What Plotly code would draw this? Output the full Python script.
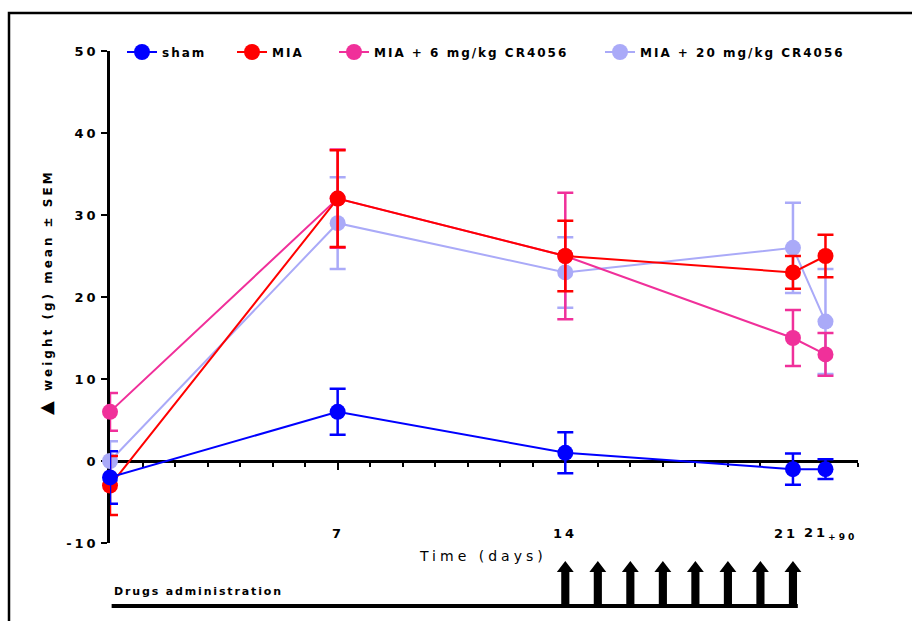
import plotly.graph_objects as go

# ---------------- data ----------------
days = [0, 7, 14, 21, 22]
series_names = ["sham", "MIA", "MIA + 6 mg/kg CR4056", "MIA + 20 mg/kg CR4056"]
sham_mean = [-2, 6, 1, -1, -1]
sham_sem = [3.2, 2.8, 2.5, 1.9, 1.2]
mia_mean = [-3, 32, 25, 23, 25]
mia_sem = [3.6, 5.9, 4.3, 2.0, 2.6]
mia6_mean = [6, 32, 25, 15, 13]
mia6_sem = [2.3, 6.0, 7.7, 3.4, 2.6]
mia20_mean = [0, 29, 23, 26, 17]
mia20_sem = [2.4, 5.6, 4.3, 5.5, 6.4]

xtick_vals = [7, 14, 21, 22]
xtick_text = ["7", "14", "21", "21<sub>+90</sub>"]
ytick_vals = [-10, 0, 10, 20, 30, 40, 50]
ytick_text = ["-10", "0", "10", "20", "30", "40", "50"]
dosing_days = [14, 15, 16, 17, 18, 19, 20, 21]

colors = ["#0000FF", "#FF0000", "#F0309A", "#AAAAF8"]
FONT = "DejaVu Sans, Liberation Sans, Arial, sans-serif"


def spaced(txt, px):
    return f"<span style='letter-spacing:{px}px'>{txt}</span>"


means = [sham_mean, mia_mean, mia6_mean, mia20_mean]
sems = [sham_sem, mia_sem, mia6_sem, mia20_sem]

# plot area geometry (pixels)
L, R, T, B = 110, 54, 51, 78
W, H = 912, 621
pw, ph = W - L - R, H - T - B


def px_to_paper_y(py):
    return (H - B - py) / ph


def px_to_paper_x(px):
    return (px - L) / pw


fig = go.Figure()

legend_ids = ["legend", "legend2", "legend3", "legend4"]
legend_px = [122, 232, 334, 600]

# draw order: lavender, pink, red, blue (blue on top)
for i in [3, 2, 1, 0]:
    fig.add_trace(go.Scatter(
        x=days, y=means[i], name=spaced(series_names[i], 2),
        mode="lines+markers",
        line=dict(color=colors[i], width=2),
        marker=dict(color=colors[i], size=16),
        error_y=dict(type="data", array=sems[i], visible=True,
                     color=colors[i], thickness=2.5, width=8),
        legend=legend_ids[i],
        cliponaxis=False,
    ))

layout_legends = {}
for i, lid in enumerate(legend_ids):
    layout_legends[lid] = dict(
        x=px_to_paper_x(legend_px[i]), y=px_to_paper_y(52),
        xanchor="left", yanchor="middle", orientation="h",
        bgcolor="rgba(0,0,0,0)",
        font=dict(family=FONT, size=12, color="black", weight="bold"),
    )

annotations = []
# x tick labels (drawn low, near the -10 level as in the reference)
shifts = [0, 0, -7, -23]
anchors = ["center", "center", "center", "left"]
for v, t, s, a in zip(xtick_vals, xtick_text, shifts, anchors):
    annotations.append(dict(
        x=v, y=px_to_paper_y(533), xref="x", yref="paper", text=spaced(t, 3),
        showarrow=False, xanchor=a, yanchor="middle", xshift=s,
        font=dict(family=FONT, size=13, color="black", weight="bold"),
    ))
annotations.append(dict(
    x=px_to_paper_x(483), y=px_to_paper_y(556), xref="paper", yref="paper",
    text=spaced("Time (days)", 4), showarrow=False, xanchor="center", yanchor="middle",
    font=dict(family=FONT, size=14, color="black"),
))
annotations.append(dict(
    x=px_to_paper_x(45), y=px_to_paper_y(292), xref="paper", yref="paper",
    text=spaced("<span style='font-size:18px'>▲</span> weight (g) mean ± SEM", 3),
    textangle=-90, showarrow=False,
    xanchor="center", yanchor="middle",
    font=dict(family=FONT, size=12, color="black", weight="bold"),
))
annotations.append(dict(
    x=0.05, y=px_to_paper_y(591), xref="x", yref="paper",
    text=spaced("Drugs administration", 1.85), showarrow=False,
    xanchor="left", yanchor="middle",
    font=dict(family=FONT, size=11, color="black", weight="bold"),
))

shapes = []
# outer frame
shapes.append(dict(type="rect", xref="paper", yref="paper",
                   x0=px_to_paper_x(9), x1=px_to_paper_x(960),
                   y0=px_to_paper_y(680), y1=px_to_paper_y(13),
                   line=dict(color="black", width=2.5), fillcolor="rgba(0,0,0,0)"))
# drug administration baseline
shapes.append(dict(type="line", xref="x", yref="paper",
                   x0=0.05, x1=21.15, y0=px_to_paper_y(606), y1=px_to_paper_y(606),
                   line=dict(color="black", width=4)))
# dosing arrows
y_base = px_to_paper_y(606)
y_head = px_to_paper_y(572)
y_tip = px_to_paper_y(561)
sw, hw = 0.125, 0.26
for d in dosing_days:
    shapes.append(dict(type="path", xref="x", yref="paper",
                       path=(f"M {d - sw} {y_base} L {d - sw} {y_head} L {d - hw} {y_head} "
                             f"L {d} {y_tip} L {d + hw} {y_head} L {d + sw} {y_head} "
                             f"L {d + sw} {y_base} Z"),
                       fillcolor="black", line=dict(color="black", width=0)))

fig.update_layout(
    width=W, height=H,
    margin=dict(l=L, r=R, t=T, b=B, pad=0),
    paper_bgcolor="white", plot_bgcolor="white",
    showlegend=True,
    annotations=annotations, shapes=shapes,
    **layout_legends,
)

fig.update_xaxes(
    range=[0, 23], anchor="free", position=10 / 60, layer="below traces",
    showline=True, linecolor="black", linewidth=2.5,
    showgrid=False, zeroline=False,
    tickmode="array", tickvals=[7, 14, 21], ticks="outside",
    ticklen=7, tickwidth=2, tickcolor="black", showticklabels=False,
    minor=dict(dtick=1, tick0=0, ticks="outside", ticklen=4, tickwidth=1.5,
               tickcolor="black", showgrid=False),
)
fig.update_yaxes(
    range=[-10, 50], tickmode="array", tickvals=ytick_vals, layer="below traces",
    ticktext=[spaced(t, 3) for t in ytick_text],
    showline=True, linecolor="black", linewidth=2.5,
    showgrid=False, zeroline=False,
    ticks="outside", ticklen=6, tickwidth=2, tickcolor="black",
    tickfont=dict(family=FONT, size=13, color="black", weight="bold"),
)

fig.write_html("out.html")
